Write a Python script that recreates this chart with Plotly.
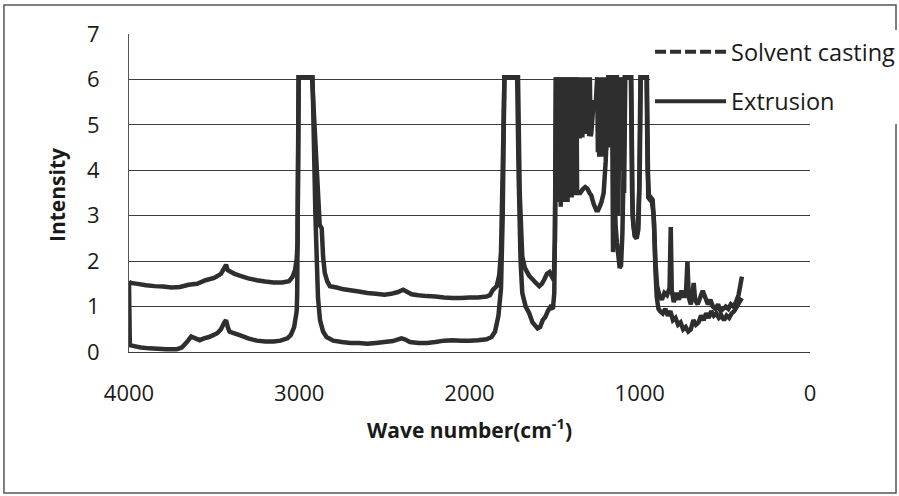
import plotly.graph_objects as go

# ---------------- data ----------------
# Solvent casting (upper baseline trace)
sc_wn = [4000, 3990, 3950, 3900, 3850, 3800, 3750, 3700, 3650, 3600, 3550, 3500,
         3460, 3440, 3430, 3420, 3400, 3380, 3350, 3300, 3250, 3200, 3150, 3100,
         3060, 3040, 3025, 3015, 3010, 3003, 2990, 2970, 2950, 2925, 2880, 2868,
         2860, 2850, 2835, 2820, 2780, 2740, 2700, 2650, 2600, 2550, 2500, 2460,
         2420, 2390, 2370, 2340, 2300, 2250, 2200, 2150, 2100, 2050, 2000, 1950,
         1900, 1880, 1862, 1840, 1825, 1815, 1805, 1795, 1760, 1715, 1705, 1690,
         1675, 1650, 1630, 1610, 1590, 1575, 1560, 1545, 1530, 1515, 1505, 1498,
         1493, 1489, 1485, 1481, 1477, 1473, 1469, 1465, 1461, 1457, 1453, 1449,
         1445, 1441, 1437, 1433, 1429, 1425, 1421, 1417, 1413, 1409,
         1405, 1401, 1397, 1393, 1389, 1385, 1381, 1377, 1373, 1369, 1365, 1361,
         1357, 1353, 1349, 1345, 1341, 1337, 1333, 1329, 1325, 1321, 1317, 1313,
         1309, 1305, 1301, 1297, 1293, 1289,
         1285, 1275, 1268, 1258, 1250,
         1246, 1242, 1238, 1234, 1230, 1226, 1222, 1218, 1214, 1210, 1206, 1202,
         1198, 1194, 1190, 1186, 1182, 1178,
         1175, 1163, 1157, 1150, 1142, 1134, 1126, 1118, 1110, 1100, 1092, 1085,
         1050, 1042, 1030, 1018, 1008, 1000, 994, 958, 950, 940, 928, 918,
         908, 898, 885, 870, 855, 840, 825, 818, 812, 800, 785, 770,
         755, 740, 728, 720, 712, 700, 690, 683, 675, 660, 645, 630,
         615, 600, 585, 570, 555, 540, 525, 510, 495, 480, 465, 450,
         435, 420, 410, 400]
sc_int = [1.55, 1.52, 1.50, 1.47, 1.45, 1.44, 1.42, 1.43, 1.48, 1.50, 1.58, 1.63,
          1.72, 1.85, 1.92, 1.80, 1.76, 1.72, 1.68, 1.62, 1.58, 1.55, 1.53, 1.53,
          1.56, 1.65, 1.80, 2.05, 2.40, 6.05, 6.05, 6.05, 6.05, 6.05, 2.80, 2.72,
          2.10, 1.74, 1.55, 1.45, 1.42, 1.38, 1.36, 1.33, 1.30, 1.28, 1.26, 1.28,
          1.32, 1.37, 1.33, 1.27, 1.25, 1.23, 1.22, 1.20, 1.19, 1.19, 1.20, 1.20,
          1.22, 1.25, 1.37, 1.45, 1.70, 2.20, 4.00, 6.05, 6.05, 6.05, 3.50, 2.10,
          1.85, 1.68, 1.60, 1.52, 1.45, 1.50, 1.60, 1.72, 1.76, 1.65, 1.58, 2.50,
          6.05, 3.80, 6.05, 3.60, 6.05, 3.90, 6.05, 3.70, 6.05, 4.00, 6.05, 3.80,
          6.05, 3.70, 6.05, 3.90, 6.05, 3.60, 6.05, 3.80, 6.05, 3.70,
          6.05, 4.80, 6.05, 4.75, 6.05, 4.70, 6.05, 4.75, 6.05, 4.70, 6.05, 4.72,
          6.05, 4.70, 6.05, 4.75, 6.05, 4.72, 6.05, 4.80, 6.05, 4.85, 6.05, 4.90,
          6.05, 4.80, 6.05, 4.75, 6.05, 4.75,
          4.80, 5.30, 5.50, 5.50, 6.05,
          4.40, 6.05, 4.30, 6.05, 4.35, 6.05, 4.30, 6.05, 4.40, 6.05, 4.50, 6.05,
          4.45, 6.05, 4.60, 6.05, 4.50, 6.05,
          6.05, 6.05, 2.20, 2.40, 6.05, 6.05, 3.00, 6.05, 4.00, 6.05, 3.50, 6.05,
          6.05, 3.00, 2.55, 2.50, 2.70, 4.00, 6.05, 6.05, 3.40, 3.35, 3.30, 3.00,
          2.00, 1.45, 1.25, 1.15, 1.30, 1.25, 1.40, 2.75, 1.35, 1.10, 1.30, 1.15,
          1.35, 1.20, 1.35, 1.98, 1.20, 1.05, 1.30, 1.52, 1.15, 1.05, 1.20, 1.35,
          1.20, 1.05, 1.15, 1.00, 0.95, 1.05, 0.90, 0.95, 1.00, 0.95, 1.05, 1.00,
          1.10, 1.25, 1.45, 1.66]

# Extrusion (lower baseline trace)
ex_wn = [4000, 3995, 3970, 3930, 3880, 3830, 3780, 3720, 3690, 3660, 3635, 3610,
         3585, 3560, 3530, 3505, 3480, 3460, 3440, 3430, 3420, 3410, 3390, 3350,
         3300, 3250, 3200, 3150, 3110, 3070, 3050, 3030, 3015, 3012, 3004, 2990,
         2960, 2940, 2922, 2905, 2890, 2878, 2860, 2840, 2800, 2750, 2700, 2650,
         2600, 2550, 2500, 2450, 2400, 2380, 2350, 2300, 2250, 2200, 2150, 2100,
         2050, 2000, 1950, 1900, 1870, 1850, 1830, 1815, 1805, 1795, 1750, 1720,
         1712, 1700, 1690, 1670, 1650, 1630, 1600, 1585, 1570, 1555, 1540, 1525,
         1510, 1502, 1496,
         1492, 1488, 1484, 1480, 1476, 1472, 1468, 1464, 1460, 1456, 1452, 1448,
         1444, 1440, 1436, 1432, 1428, 1424, 1420, 1416, 1412, 1408, 1404, 1400,
         1396, 1392, 1388, 1384, 1380, 1376, 1372, 1368,
         1350, 1335, 1320, 1308, 1295, 1285, 1270, 1255, 1245, 1235,
         1225, 1212, 1200, 1192, 1185, 1158, 1150, 1142, 1134, 1125, 1118, 1110,
         1102, 1095, 1088, 1052, 1045, 1038, 1030, 1020, 1010, 1003, 996, 960,
         954, 946, 935, 924, 916, 908, 900, 890, 880, 865, 850, 835,
         820, 805, 790, 775, 760, 745, 730, 715, 700, 685, 670, 655,
         640, 625, 610, 595, 580, 565, 550, 535, 520, 505, 490, 475,
         460, 445, 430, 415, 400]
ex_int = [1.50, 0.15, 0.13, 0.10, 0.08, 0.07, 0.06, 0.06, 0.10, 0.22, 0.34, 0.30,
          0.26, 0.30, 0.33, 0.37, 0.42, 0.50, 0.65, 0.70, 0.55, 0.45, 0.42, 0.37,
          0.30, 0.25, 0.23, 0.23, 0.25, 0.30, 0.37, 0.55, 0.90, 1.30, 6.05, 6.05,
          6.05, 6.05, 6.05, 3.00, 1.20, 0.70, 0.45, 0.33, 0.25, 0.22, 0.20, 0.20,
          0.18, 0.20, 0.22, 0.24, 0.30, 0.28, 0.22, 0.20, 0.20, 0.22, 0.25, 0.26,
          0.25, 0.25, 0.26, 0.28, 0.33, 0.45, 0.80, 1.40, 3.00, 6.05, 6.05, 6.05,
          4.00, 2.00, 1.30, 1.00, 0.86, 0.65, 0.52, 0.55, 0.70, 0.77, 0.90, 0.99,
          0.95, 1.30, 3.50,
          6.05, 3.40, 6.05, 3.30, 6.05, 3.50, 6.05, 3.20, 6.05, 3.35, 6.05, 3.30,
          6.05, 3.50, 6.05, 3.40, 6.05, 3.30, 6.05, 3.45, 6.05, 3.50, 6.05, 3.40,
          6.05, 3.50, 6.05, 3.45, 6.05, 3.50, 6.05, 3.50,
          3.50, 3.58, 3.63, 3.60, 3.50, 3.45, 3.25, 3.12, 3.12, 3.20,
          3.30, 3.50, 4.20, 5.00, 6.05, 6.05, 3.80, 2.80, 2.40, 2.10, 1.85, 1.90,
          2.60, 4.00, 6.05, 6.05, 3.50, 2.80, 2.60, 2.50, 2.80, 3.60, 6.05, 6.05,
          4.00, 3.45, 3.40, 3.35, 2.80, 1.80, 1.20, 0.95, 0.90, 0.85, 0.95, 0.80,
          0.90, 0.70, 0.75, 0.60, 0.65, 0.50, 0.55, 0.45, 0.50, 0.70, 0.60, 0.65,
          0.80, 0.70, 0.85, 0.75, 0.90, 0.80, 0.85, 0.75, 0.80, 0.70, 0.80, 0.75,
          0.85, 0.90, 1.00, 1.10, 1.19]

assert len(sc_wn) == len(sc_int), (len(sc_wn), len(sc_int))
assert len(ex_wn) == len(ex_int), (len(ex_wn), len(ex_int))

series_names = ["Solvent casting", "Extrusion"]
x_ticks = [4000, 3000, 2000, 1000, 0]
y_ticks = [0, 1, 2, 3, 4, 5, 6, 7]

# ---------------- figure ----------------
LINE = "#2e2e2e"
GRID = "#3c3c3c"
FONT = "Open Sans"

fig = go.Figure()
fig.add_trace(go.Scatter(x=sc_wn, y=sc_int, mode="lines", showlegend=False,
                         line=dict(color=LINE, width=4.5, simplify=False),
                         name=series_names[0]))
fig.add_trace(go.Scatter(x=ex_wn, y=ex_int, mode="lines", showlegend=False,
                         line=dict(color=LINE, width=4.5, simplify=False),
                         name=series_names[1]))
# legend entries
fig.add_trace(go.Scatter(x=[None], y=[None], mode="lines", name=series_names[0],
                         legendgroup="a",
                         line=dict(color=LINE, width=4, dash="11px,4px")))
fig.add_trace(go.Scatter(x=[None], y=[None], mode="lines", name=series_names[1],
                         legendgroup="b",
                         line=dict(color=LINE, width=4)))

fig.update_layout(
    width=899, height=496,
    margin=dict(l=129, r=89, t=34, b=144, autoexpand=False),
    paper_bgcolor="white", plot_bgcolor="white",
    font=dict(family=FONT, color="#1a1a1a"),
    legend=dict(x=0.7651, y=1.0126, xanchor="left", yanchor="top",
                bgcolor="white", borderwidth=0, itemwidth=71,
                tracegroupgap=16, font=dict(size=23.5, family=FONT, color="#1a1a1a")),
    xaxis=dict(range=[4000, 0], tickvals=x_ticks, ticks="", showgrid=False,
               zeroline=False, showline=True, linecolor=GRID, linewidth=1.3,
               tickfont=dict(size=22), ticklabelstandoff=21),
    yaxis=dict(range=[0, 7], tickvals=y_ticks, ticks="", showgrid=True,
               gridcolor=GRID, gridwidth=1.3, zeroline=False, showline=True,
               linecolor="#555555", linewidth=1, tickfont=dict(size=22),
               ticklabelstandoff=24),
    annotations=[
        dict(text="<b>Wave number(cm<sup>-1</sup>)</b>", xref="paper", yref="paper",
             x=0.5007, y=-0.2421, showarrow=False, font=dict(size=21),
             xanchor="center", yanchor="middle"),
        dict(text="<b>Intensity</b>", xref="paper", yref="paper",
             x=-0.1057, y=0.4937, showarrow=False, font=dict(size=21),
             textangle=-90, xanchor="center", yanchor="middle"),
    ],
    shapes=[dict(type="rect", xref="paper", yref="paper",
                 x0=-0.1836, x1=1.1263, y0=-0.4434, y1=1.0912,
                 line=dict(color="#555555", width=1.5))],
)

fig.write_html("out.html")
